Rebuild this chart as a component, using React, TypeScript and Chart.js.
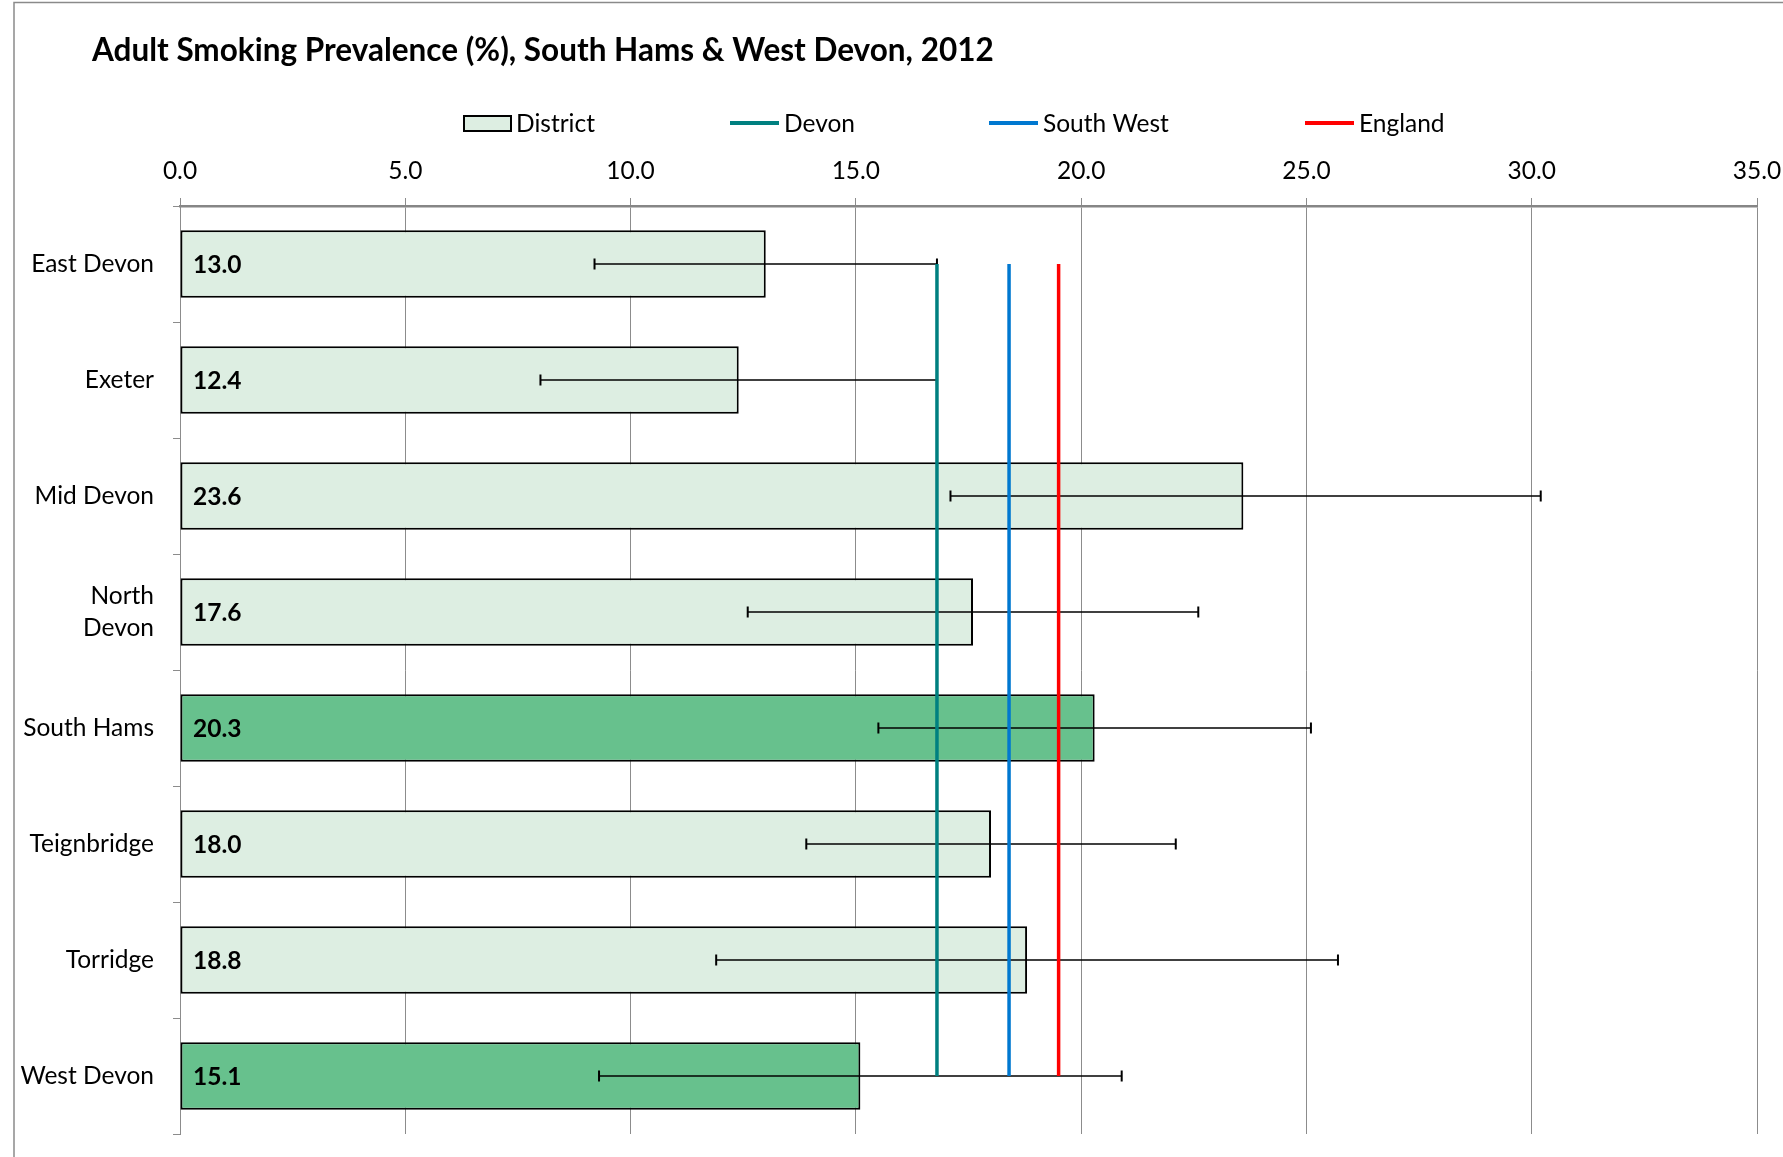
import React, { useEffect, useRef } from 'react';
import { Chart, registerables } from 'chart.js';

Chart.register(...registerables);

const TITLE = 'Adult Smoking Prevalence (%), South Hams & West Devon, 2012';
const districts = ['East Devon', 'Exeter', 'Mid Devon', 'North Devon', 'South Hams', 'Teignbridge', 'Torridge', 'West Devon'];
const prevalence = [13.0, 12.4, 23.6, 17.6, 20.3, 18.0, 18.8, 15.1];
const lowerCI = [9.2, 8.0, 17.1, 12.6, 15.5, 13.9, 11.9, 9.3];
const upperCI = [16.8, 16.8, 30.2, 22.6, 25.1, 22.1, 25.7, 20.9];
const highlighted = [false, false, false, false, true, false, false, true];
const devonValue = 16.8;
const southWestValue = 18.4;
const englandValue = 19.5;
const xMin = 0;
const xMax = 35;
const xStep = 5;

const W = 1783;
const H = 1157;
const FONT = 'Lato, "Liberation Sans", sans-serif';
const LABEL_SIZE = 24.5;
const LIGHT = '#DDEEE2';
const DARK = '#67C18D';
const TEAL = '#008080';
const BLUE = '#0078D0';
const RED = '#FF0000';
const GRID = '#8C8C8C';

const customPlugin = {
  id: 'custom',
  beforeDraw(chart: any) {
    const ctx = chart.ctx;
    ctx.save();
    ctx.fillStyle = '#ffffff';
    ctx.fillRect(0, 0, W, H);
    ctx.strokeStyle = '#8A8A8A';
    ctx.lineWidth = 1.5;
    ctx.strokeRect(14, 2.5, W + 50, H + 50);
    ctx.restore();
  },
  afterDatasetDraw(chart: any, args: any) {
    if (args.index !== 0) return;
    const ctx = chart.ctx;
    const xs = chart.scales.x;
    const meta = chart.getDatasetMeta(0);
    ctx.save();
    ctx.strokeStyle = '#000';
    meta.data.forEach((bar: any, i: number) => {
      const y = bar.y;
      const x1 = xs.getPixelForValue(lowerCI[i]);
      const x2 = xs.getPixelForValue(upperCI[i]);
      ctx.lineWidth = 1.5;
      ctx.beginPath();
      ctx.moveTo(x1, y);
      ctx.lineTo(x2, y);
      ctx.stroke();
      ctx.lineWidth = 2;
      ctx.beginPath();
      ctx.moveTo(x1, y - 5.5);
      ctx.lineTo(x1, y + 5.5);
      ctx.moveTo(x2, y - 5.5);
      ctx.lineTo(x2, y + 5.5);
      ctx.stroke();
    });
    ctx.restore();
  },
  afterDatasetsDraw(chart: any) {
    const ctx = chart.ctx;
    const xs = chart.scales.x;
    const meta = chart.getDatasetMeta(0);
    ctx.save();
    ctx.fillStyle = '#000';
    ctx.font = `bold ${LABEL_SIZE}px ${FONT}`;
    ctx.textBaseline = 'middle';
    ctx.textAlign = 'left';
    meta.data.forEach((bar: any, i: number) => {
      ctx.fillText(prevalence[i].toFixed(1), xs.getPixelForValue(0) + 13, bar.y + 1);
    });
    ctx.restore();
  },
  afterDraw(chart: any) {
    const ctx = chart.ctx;
    ctx.save();
    ctx.fillStyle = '#000';
    ctx.textAlign = 'left';
    ctx.textBaseline = 'alphabetic';
    ctx.font = `bold 31.5px ${FONT}`;
    ctx.fillText(TITLE, 92, 61);

    // legend
    const ly = 123;
    ctx.font = `${LABEL_SIZE}px ${FONT}`;
    ctx.textBaseline = 'middle';
    ctx.fillStyle = LIGHT;
    ctx.fillRect(464, 116, 47, 15);
    ctx.strokeStyle = '#000';
    ctx.lineWidth = 2;
    ctx.strokeRect(464, 116, 47, 15);
    ctx.fillStyle = '#000';
    ctx.fillText('District', 516, ly + 1);
    const items: [string, string, number][] = [
      ['Devon', TEAL, 730],
      ['South West', BLUE, 989],
      ['England', RED, 1305],
    ];
    items.forEach(([label, color, x]) => {
      ctx.strokeStyle = color;
      ctx.lineWidth = 4;
      ctx.beginPath();
      ctx.moveTo(x, ly);
      ctx.lineTo(x + 49, ly);
      ctx.stroke();
      ctx.fillStyle = '#000';
      ctx.fillText(label, x + 54, ly + 1);
    });
    ctx.restore();
  },
};

export default function App() {
  const ref = useRef<HTMLCanvasElement | null>(null);

  useEffect(() => {
    document.body.style.margin = '0';
    const canvas = ref.current;
    if (!canvas) return;
    const firstCat = districts[0];
    const lastCat = districts[districts.length - 1];
    const refLine = (label: string, value: number, color: string, order: number) => ({
      type: 'line' as const,
      label,
      indexAxis: 'y' as const,
      data: [
        { x: value, y: firstCat },
        { x: value, y: lastCat },
      ],
      borderColor: color,
      backgroundColor: color,
      borderWidth: 3.5,
      pointRadius: 0,
      fill: false,
      order,
    });
    const zeroPad = (scale: any) => {
      scale.paddingLeft = 0;
      scale.paddingRight = 0;
      scale.paddingTop = 0;
      scale.paddingBottom = 0;
    };
    const chart = new Chart(canvas, {
      type: 'bar',
      data: {
        labels: districts,
        datasets: [
          {
            type: 'bar',
            label: 'District',
            data: prevalence,
            backgroundColor: highlighted.map((h) => (h ? DARK : LIGHT)),
            borderColor: '#000',
            borderWidth: 2,
            borderSkipped: false,
            barPercentage: 0.58,
            categoryPercentage: 1,
            order: 10,
          } as any,
          refLine('Devon', devonValue, TEAL, 3),
          refLine('South West', southWestValue, BLUE, 2),
          refLine('England', englandValue, RED, 1),
        ],
      },
      options: {
        indexAxis: 'y',
        responsive: false,
        animation: false,
        layout: { padding: { top: 140, left: 14, right: 26, bottom: 23 } },
        plugins: {
          legend: { display: false },
          tooltip: { enabled: false },
          title: { display: false },
        },
        scales: {
          x: {
            type: 'linear',
            position: 'top',
            min: xMin,
            max: xMax,
            ticks: {
              stepSize: xStep,
              callback: (v: any) => Number(v).toFixed(1),
              color: '#000',
              font: { family: FONT, size: LABEL_SIZE },
              padding: 12,
            },
            grid: {
              color: GRID,
              lineWidth: 1,
              tickLength: 8,
              drawTicks: true,
            },
            border: { color: '#868686', width: 2.5 },
            afterFit: (scale: any) => {
              scale.height = 66;
              zeroPad(scale);
            },
          },
          y: {
            type: 'category',
            ticks: {
              color: '#000',
              font: { family: FONT, size: LABEL_SIZE, lineHeight: 1.3 },
              padding: 19,
              callback: function (this: any, v: any) {
                const l = this.getLabelForValue(v);
                return l === 'North Devon' ? ['North', 'Devon'] : l;
              },
            },
            grid: {
              offset: true,
              drawOnChartArea: false,
              drawTicks: true,
              tickLength: 7,
              color: '#8C8C8C',
            },
            border: { color: '#8C8C8C', width: 1 },
            afterFit: (scale: any) => {
              scale.width = 166;
              zeroPad(scale);
            },
          },
        },
      },
      plugins: [customPlugin],
    } as any);
    return () => chart.destroy();
  }, []);

  return (
    <div style={{ width: W, height: H, position: 'relative', background: '#fff' }}>
      <canvas ref={ref} width={W} height={H} style={{ width: W, height: H, display: 'block' }} />
    </div>
  );
}
